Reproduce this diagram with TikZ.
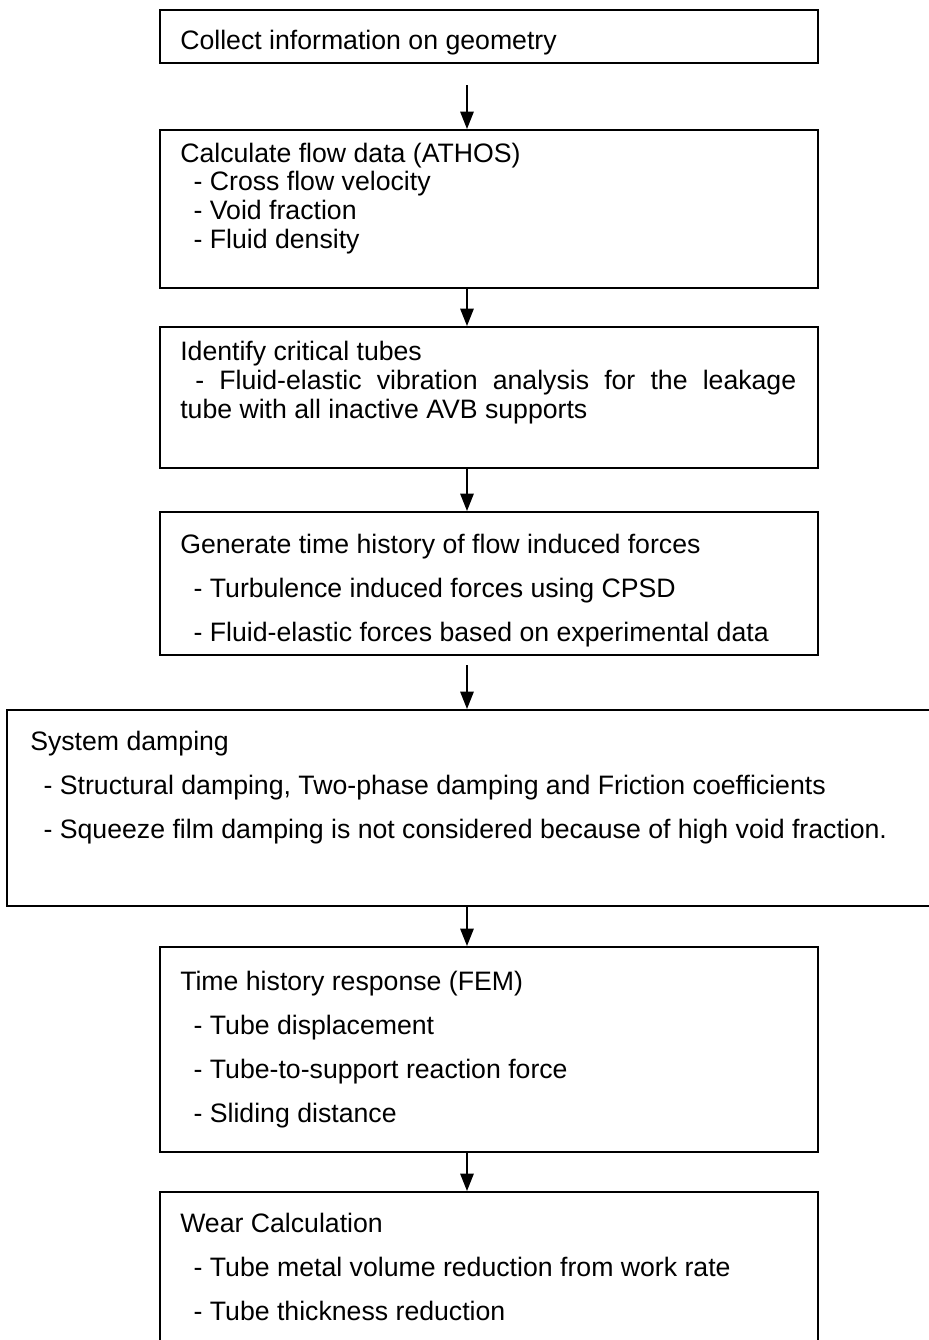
\documentclass[tikz,border=0pt]{standalone}
\usepackage{fontspec}
\setmainfont{Liberation Sans}
\usetikzlibrary{fit,arrows.meta}
\newcommand{\Li}{\hspace*{10pt}}
\tikzset{
  box/.style={draw, line width=1.5pt, inner sep=0pt},
  txt/.style={anchor=base west, align=left, inner sep=0pt, font=\fontsize{20}{33}\selectfont},
  dense/.style={font=\fontsize{20}{21.4}\selectfont},
  flow/.style={-{Stealth[length=13pt,width=10pt,inset=0pt]}, line width=1.2pt}
}

\begin{document}
\begin{tikzpicture}[x=0.75pt,y=-0.75pt]
\useasboundingbox (0,0) rectangle (929,1340);
\clip (0,0) rectangle (929,1340);
\coordinate (ax) at (467,0);

\node (b1) [box, fit={(160,10) (818,63)}] {};
\node (b2) [box, fit={(160,130) (818,288)}] {};
\node (b3) [box, fit={(160,327) (818,468)}] {};
\node (b4) [box, fit={(160,512) (818,655)}] {};
\node (b5) [box, fit={(7,710) (950,906)}] {};
\node (b6) [box, fit={(160,947) (818,1152)}] {};
\node (b7) [box, fit={(160,1192) (818,1370)}] {};

% text nodes sit on the baseline of their last line
\node (t1) [txt] at (180,49) {Collect information on geometry};
\node (t2) [txt, dense] at (180,248) {Calculate flow data (ATHOS)\\
  \Li- Cross flow velocity\\ \Li- Void fraction\\ \Li- Fluid density};
\node (t3) [txt, dense] at (180,418) {Identify critical tubes\\
  \makebox[462pt][s]{\ - Fluid-elastic vibration analysis for the leakage}\\
  tube with all inactive AVB supports};
\node (t4) [txt] at (180,641) {Generate time history of flow induced forces\\
  \Li- Turbulence induced forces using CPSD\\
  \Li- Fluid-elastic forces based on experimental data};
\node (t5) [txt] at (30,838) {System damping\\
  \Li- Structural damping, Two-phase damping and Friction coefficients\\
  \Li- Squeeze film damping is not considered because of high void fraction.};
\node (t6) [txt] at (180,1122) {Time history response (FEM)\\
  \Li- Tube displacement\\ \Li- Tube-to-support reaction force\\ \Li- Sliding distance};
\node (t7) [txt] at (180,1320) {Wear Calculation\\
  \Li- Tube metal volume reduction from work rate\\ \Li- Tube thickness reduction};

\path [flow]

(ax |- b1.south)
edge [shorten <=16pt]
(ax |- b2.north)

(ax |- b2.south)
edge
(ax |- b3.north)

(ax |- b3.south)
edge
(ax |- b4.north)

(ax |- b4.south)
edge [shorten <=7pt]
(ax |- b5.north)

(ax |- b5.south)
edge
(ax |- b6.north)

(ax |- b6.south)
edge
(ax |- b7.north)

;
\end{tikzpicture}
\end{document}
